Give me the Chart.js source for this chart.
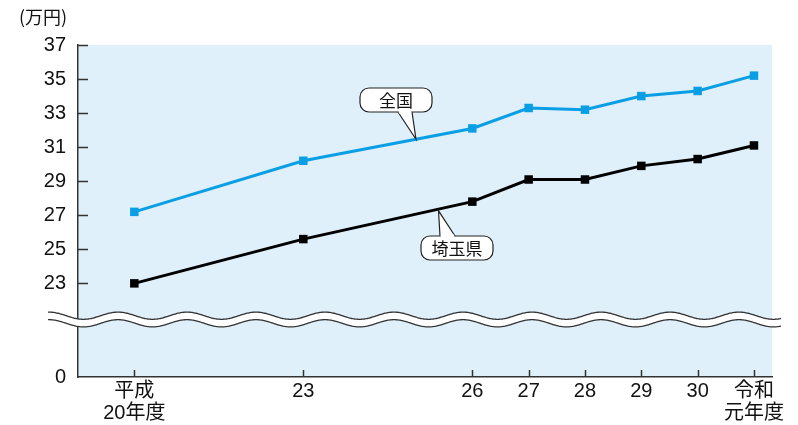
<!DOCTYPE html>
<html>
<head>
<meta charset="utf-8">
<script src="https://cdn.jsdelivr.net/npm/chart.js@4.4.1/dist/chart.umd.min.js"></script>
<style>
  html, body { margin: 0; padding: 0; background: #fff; }
  #wrap { width: 798px; height: 425px; position: relative; }
</style>
</head>
<body>
<div id="wrap"><canvas id="chart"></canvas></div>
<script>
// 年度 (平成の年, 令和元年 = 31)
var years = [20, 23, 26, 27, 28, 29, 30, 31];
var yearLabels = [['平成', '20年度'], '23', '26', '27', '28', '29', '30', ['令和', '元年度']];
var zenkoku = [27.2, 30.2, 32.1, 33.3, 33.2, 34.0, 34.3, 35.2];
var saitama = [23.0, 25.6, 27.8, 29.1, 29.1, 29.9, 30.3, 31.1];
var yTicks = [23, 25, 27, 29, 31, 33, 35, 37];
var yBreakMin = 17.5; // shown as 0 below the break

var numFont = '"Liberation Sans", "Noto Sans CJK JP", sans-serif';
var cjkFont = '"Noto Sans CJK JP", sans-serif';
var axisColor = '#333333';
var blue = '#0a9fe4';

function points(vals) {
    var out = [];
    for (var i = 0; i < years.length; i++) {
        out.push({x: years[i], y: vals[i]});
    }
    return out;
}

var decor = {
    id: 'decor',
    beforeDraw: function (chart) {
        var a = chart.chartArea, ctx = chart.ctx;
        ctx.save();
        ctx.fillStyle = '#dff0fa';
        ctx.fillRect(a.left, a.top, a.right - a.left, a.bottom - a.top);
        ctx.restore();
    },
    afterDraw: function (chart) {
        var a = chart.chartArea, ctx = chart.ctx;
        var xs = chart.scales.x, ys = chart.scales.y;
        ctx.save();
        // inward ticks
        ctx.strokeStyle = axisColor;
        ctx.lineWidth = 1.5;
        yTicks.forEach(function (v) {
            var py = Math.round(ys.getPixelForValue(v)) + 0.5;
            ctx.beginPath();
            ctx.moveTo(a.left, py);
            ctx.lineTo(a.left + 10, py);
            ctx.stroke();
        });
        years.forEach(function (v) {
            var px = Math.round(xs.getPixelForValue(v)) + 0.5;
            ctx.beginPath();
            ctx.moveTo(px, a.bottom);
            ctx.lineTo(px, a.bottom - 7);
            ctx.stroke();
        });

        // wave break
        var mid = 319.5, amp = 3.6, per = 69, x0 = 118, gap = 3.8;
        var xL = 48, xR = 781;
        function waveY(x) { return mid - amp * Math.cos(2 * Math.PI * (x - x0) / per); }
        ctx.beginPath();
        for (var x = xL; x <= xR; x++) ctx.lineTo(x, waveY(x) - gap);
        for (var x2 = xR; x2 >= xL; x2--) ctx.lineTo(x2, waveY(x2) + gap);
        ctx.closePath();
        ctx.fillStyle = '#ffffff';
        ctx.fill();
        ctx.strokeStyle = axisColor;
        ctx.lineWidth = 1.3;
        [-gap, gap].forEach(function (off) {
            ctx.beginPath();
            for (var x = xL; x <= xR; x++) {
                if (x === xL) ctx.moveTo(x, waveY(x) + off);
                else ctx.lineTo(x, waveY(x) + off);
            }
            ctx.stroke();
        });

        // unit label
        ctx.fillStyle = '#111';
        ctx.font = '18px ' + cjkFont;
        ctx.textAlign = 'left';
        ctx.textBaseline = 'middle';
        ctx.fillText('(万円)', 19, 17);

        // callouts
        function callout(text, tipYear, tipVal, bx, by, bw, bh, p1, p2) {
            var tx = xs.getPixelForValue(tipYear), ty = ys.getPixelForValue(tipVal);
            var below = by > ty;
            var edge = below ? by : by + bh;
            ctx.fillStyle = '#fff';
            ctx.strokeStyle = '#222';
            ctx.lineWidth = 1.2;
            ctx.beginPath();
            ctx.roundRect(bx, by, bw, bh, 9);
            ctx.fill();
            ctx.stroke();
            ctx.beginPath();
            ctx.moveTo(p1, edge);
            ctx.lineTo(tx, ty);
            ctx.lineTo(p2, edge);
            ctx.closePath();
            ctx.fill();
            ctx.beginPath();
            ctx.moveTo(p1, edge);
            ctx.lineTo(tx, ty);
            ctx.lineTo(p2, edge);
            ctx.stroke();
            ctx.fillRect(p1 + 0.8, edge - 1.5, p2 - p1 - 1.6, 3);
            ctx.fillStyle = '#111';
            ctx.font = '17px ' + cjkFont;
            ctx.textAlign = 'center';
            ctx.textBaseline = 'middle';
            ctx.fillText(text, bx + bw / 2, by + bh / 2 + 1);
        }
        var tipA = 30.2 + (32.1 - 30.2) * 2 / 3;
        callout('全国', 25, tipA, 360, 88, 72, 24, 398, 412);
        var tipB = 25.6 + (27.8 - 25.6) * 2.4 / 3 - 0.1;
        callout('埼玉県', 25.4, tipB, 421, 236, 72, 24, 440, 455);
        ctx.restore();
    }
};

new Chart(document.getElementById('chart'), {
    type: 'line',
    data: {
        datasets: [{
            label: '全国',
            data: points(zenkoku),
            borderColor: blue,
            backgroundColor: blue,
            borderWidth: 3,
            pointStyle: 'rect',
            pointRadius: 6,
            pointBorderWidth: 0,
            tension: 0
        }, {
            label: '埼玉県',
            data: points(saitama),
            borderColor: '#000',
            backgroundColor: '#000',
            borderWidth: 3,
            pointStyle: 'rect',
            pointRadius: 6,
            pointBorderWidth: 0,
            tension: 0
        }]
    },
    options: {
        responsive: true,
        maintainAspectRatio: false,
        animation: false,
        layout: { padding: { top: 45, right: 26, left: 0, bottom: 0 } },
        plugins: { legend: { display: false }, tooltip: { enabled: false } },
        scales: {
            x: {
                type: 'linear',
                min: 19,
                max: 31.32,
                afterBuildTicks: function (scale) {
                    scale.ticks = years.map(function (v) { return {value: v}; });
                },
                afterFit: function (scale) { scale.height = 48; },
                grid: { display: false, drawTicks: false },
                border: { display: true, color: axisColor, width: 1.5 },
                ticks: {
                    padding: 3,
                    color: '#111',
                    maxRotation: 0,
                    autoSkip: false,
                    font: { family: numFont, size: 20, lineHeight: 1.1 },
                    callback: function (value) {
                        var i = years.indexOf(value);
                        return i >= 0 ? yearLabels[i] : '';
                    }
                }
            },
            y: {
                min: yBreakMin,
                max: 37,
                afterBuildTicks: function (scale) {
                    scale.ticks = [yBreakMin].concat(yTicks).map(function (v) { return {value: v}; });
                },
                afterFit: function (scale) { scale.width = 78; },
                grid: { display: false, drawTicks: false },
                border: { display: true, color: axisColor, width: 1.5 },
                ticks: {
                    padding: 12,
                    color: '#111',
                    autoSkip: false,
                    font: { family: numFont, size: 20 },
                    callback: function (value) {
                        return value === yBreakMin ? '0' : String(value);
                    }
                }
            }
        }
    },
    plugins: [decor]
});
</script>
</body>
</html>
